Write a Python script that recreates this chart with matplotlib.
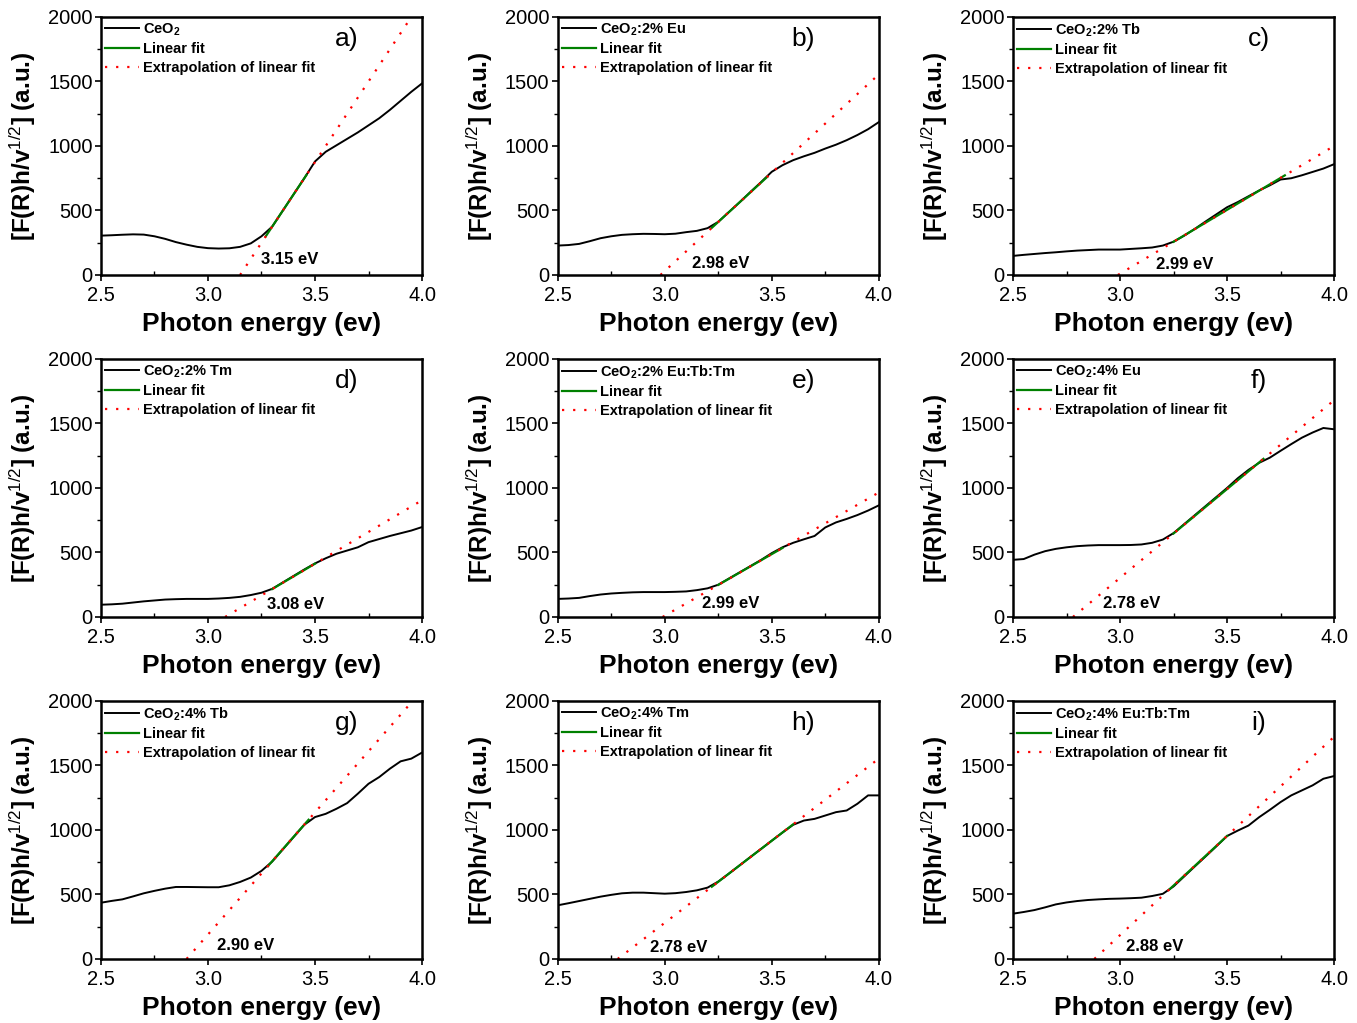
import numpy as np
import matplotlib
matplotlib.use("Agg")
import matplotlib.pyplot as plt
from matplotlib.ticker import MultipleLocator, FormatStrFormatter

plt.rcParams['font.family'] = ['Liberation Sans', 'DejaVu Sans']
plt.rcParams['mathtext.fontset'] = 'custom'
plt.rcParams['mathtext.rm'] = 'Liberation Sans'
plt.rcParams['mathtext.bf'] = 'Liberation Sans:bold'
plt.rcParams['mathtext.it'] = 'Liberation Sans:italic'

# photon energy grid (eV)
energy = [2.50, 2.55, 2.60, 2.65, 2.70, 2.75, 2.80, 2.85, 2.90, 2.95, 3.00,
          3.05, 3.10, 3.15, 3.20, 3.25, 3.30, 3.35, 3.40, 3.45, 3.50,
          3.55, 3.60, 3.65, 3.70, 3.75, 3.80, 3.85, 3.90, 3.95, 4.00]

ceo2      = [305, 308, 312, 315, 313, 300, 280, 255, 235, 218, 208,
             205, 207, 218, 245, 300, 375, 500, 625, 750, 880,
             955, 1005, 1055, 1105, 1160, 1215, 1280, 1350, 1420, 1485]
eu2       = [228, 232, 241, 262, 285, 300, 311, 316, 319, 318, 316,
             320, 332, 342, 363, 412, 488, 564, 643, 720, 800,
             851, 890, 920, 947, 980, 1010, 1045, 1085, 1130, 1185]
tb2       = [148, 156, 163, 170, 176, 183, 189, 193, 197, 197, 197,
             202, 207, 213, 228, 258, 305, 358, 415, 470, 525,
             565, 610, 655, 695, 740, 750, 773, 799, 825, 859]
tm2       = [95, 98, 103, 112, 121, 128, 135, 138, 140, 140, 140,
             143, 148, 156, 170, 188, 218, 268, 318, 368, 415,
             455, 490, 515, 540, 580, 604, 628, 649, 670, 697]
eutbtm2   = [140, 143, 148, 162, 174, 182, 187, 191, 193, 193, 193,
             195, 198, 208, 222, 250, 298, 346, 394, 442, 495,
             540, 575, 602, 628, 694, 733, 760, 790, 825, 865]
eu4       = [443, 449, 483, 510, 528, 540, 549, 554, 557, 557, 557,
             558, 562, 575, 600, 650, 720, 790, 860, 930, 1000,
             1075, 1140, 1195, 1235, 1288, 1340, 1390, 1430, 1465, 1455]
tb4       = [436, 450, 462, 485, 509, 528, 545, 558, 558, 557, 556,
             556, 571, 597, 631, 683, 755, 850, 945, 1040, 1100,
             1125, 1164, 1208, 1281, 1358, 1410, 1475, 1532, 1553, 1600]
tm4       = [416, 432, 449, 466, 483, 497, 509, 514, 514, 510, 506,
             510, 519, 532, 553, 600, 662, 726, 790, 853, 917,
             980, 1040, 1073, 1086, 1112, 1138, 1151, 1203, 1268, 1268]
eutbtm4   = [351, 364, 379, 400, 423, 438, 449, 457, 462, 466, 468,
             471, 475, 488, 505, 562, 640, 718, 795, 873, 953,
             995, 1034, 1099, 1156, 1216, 1268, 1307, 1346, 1397, 1418]

curves = [ceo2, eu2, tb2, tm2, eutbtm2, eu4, tb4, tm4, eutbtm4]

labels = [r'CeO$_{\mathbf{2}}$', r'CeO$_{\mathbf{2}}$:2% Eu', r'CeO$_{\mathbf{2}}$:2% Tb',
          r'CeO$_{\mathbf{2}}$:2% Tm', r'CeO$_{\mathbf{2}}$:2% Eu:Tb:Tm', r'CeO$_{\mathbf{2}}$:4% Eu',
          r'CeO$_{\mathbf{2}}$:4% Tb', r'CeO$_{\mathbf{2}}$:4% Tm', r'CeO$_{\mathbf{2}}$:4% Eu:Tb:Tm']
letters = ['a)', 'b)', 'c)', 'd)', 'e)', 'f)', 'g)', 'h)', 'i)']

# band gaps (x intercept), value of extrapolated line at 4.0 eV, fitted range
band_gap = [3.15, 2.98, 2.99, 3.08, 2.99, 2.78, 2.90, 2.78, 2.88]
extrap_end = [2125, 1555, 1000, 905, 965, 1680, 2083, 1553, 1722]
fit_start = [3.27, 3.22, 3.25, 3.30, 3.25, 3.25, 3.28, 3.22, 3.23]
fit_stop = [3.46, 3.48, 3.77, 3.50, 3.55, 3.67, 3.47, 3.60, 3.50]
gap_text = ['3.15 eV', '2.98 eV', '2.99 eV', '3.08 eV', '2.99 eV',
            '2.78 eV', '2.90 eV', '2.78 eV', '2.88 eV']
gap_text_pos = [(3.25, 122), (3.125, 88), (3.17, 80), (3.275, 98), (3.175, 105),
                (2.92, 105), (3.04, 106), (2.93, 86), (3.026, 100)]

fig = plt.figure(figsize=(13.57, 10.23), dpi=100)
col_left = [0.0744, 0.411, 0.7465]
row_bottom = [0.7312, 0.3969, 0.0626]
w, h = 0.2366, 0.2522

for i in range(9):
    r, c = divmod(i, 3)
    ax = fig.add_axes([col_left[c], row_bottom[r], w, h])
    ax.plot(energy, curves[i], color='black', lw=1.4, label=labels[i])

    # fitted straight line: y = m (E - Eg)
    m = extrap_end[i] / (4.0 - band_gap[i])
    fx = [fit_start[i], fit_stop[i]]
    fy = [m * (fit_start[i] - band_gap[i]), m * (fit_stop[i] - band_gap[i])]
    ax.plot(fx, fy, color='#008000', lw=1.6, label='Linear fit')
    ax.plot([band_gap[i], 4.0], [0, extrap_end[i]], color='red', lw=1.6,
            linestyle=(0, (1, 4)), label='Extrapolation of linear fit')

    ax.set_xlim(2.5, 4.0)
    ax.set_ylim(0, 2000)
    ax.xaxis.set_major_locator(MultipleLocator(0.5))
    ax.xaxis.set_minor_locator(MultipleLocator(0.25))
    ax.yaxis.set_major_locator(MultipleLocator(500))
    ax.yaxis.set_minor_locator(MultipleLocator(250))
    ax.xaxis.set_major_formatter(FormatStrFormatter('%.1f'))
    ax.tick_params(axis='both', which='major', direction='out', length=4, width=1.2,
                   labelsize=14.5, pad=2)
    ax.tick_params(axis='x', which='major', pad=4)
    ax.tick_params(axis='x', which='minor', direction='in', length=3, width=1.0)
    ax.tick_params(axis='y', which='minor', direction='out', length=3, width=1.0)
    for sp in ax.spines.values():
        sp.set_linewidth(1.8)

    ax.set_xlabel('Photon energy (ev)', fontsize=19, fontweight='bold', labelpad=5)
    ax.set_ylabel(r'[F(R)h/v$^{1/2}$] (a.u.)', fontsize=17.5, fontweight='bold', labelpad=7)

    ax.text(gap_text_pos[i][0], gap_text_pos[i][1], gap_text[i], fontsize=12,
            fontweight='bold', ha='left', va='center')
    ax.text(0.765, 0.915, letters[i], transform=ax.transAxes, fontsize=19,
            ha='center', va='center')

    ax.legend(loc='upper left', frameon=False, borderaxespad=0.0, borderpad=0.3,
              handlelength=2.3, handletextpad=0.3, labelspacing=0.32,
              prop={'weight': 'bold', 'size': 10.5})

fig.savefig('out.png', dpi=100)
